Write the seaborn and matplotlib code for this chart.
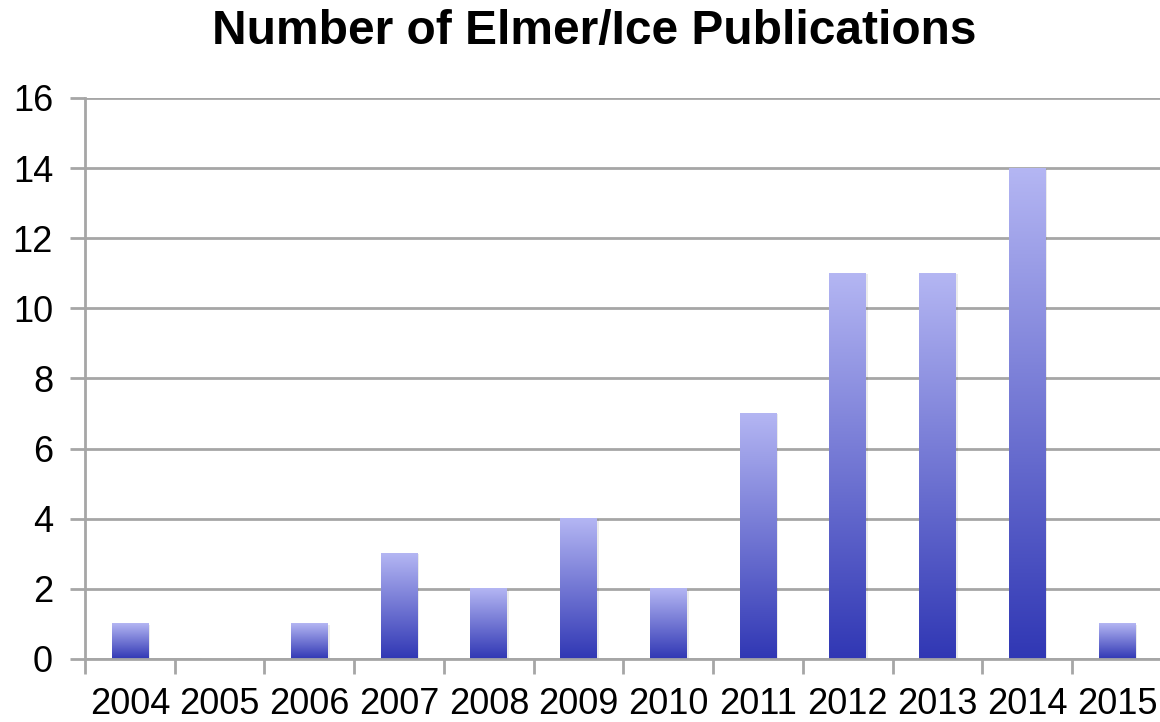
import numpy as np
import matplotlib
matplotlib.use("Agg")
import matplotlib.pyplot as plt
import matplotlib.colors as mcolors
import seaborn as sns
import pandas as pd

years = ["2004", "2005", "2006", "2007", "2008", "2009", "2010", "2011", "2012", "2013", "2014", "2015"]
counts = [1, 0, 1, 3, 2, 4, 2, 7, 11, 11, 14, 1]
yticks = [0, 2, 4, 6, 8, 10, 12, 14, 16]
title = "Number of Elmer/Ice Publications"

sns.set_style("white")
plt.rcParams["font.family"] = ["Liberation Sans", "DejaVu Sans"]
plt.rcParams["text.color"] = "black"
plt.rcParams["xtick.color"] = "black"
plt.rcParams["ytick.color"] = "black"

df = pd.DataFrame({"year": years, "count": counts})

fig = plt.figure(figsize=(11.6, 7.22), dpi=100)
ax = fig.add_axes([0.0733, 0.0873, 0.9283, 0.777])

sns.barplot(data=df, x="year", y="count", ax=ax, width=0.41, color="#7f82dd", saturation=1)

ax.set_ylim(0, 16)
ax.set_xlim(-0.5, len(years) - 0.5)
ax.set_yticks(yticks)
ax.set_yticklabels([str(t) for t in yticks])
ax.set_xlabel("")
ax.set_ylabel("")

grid_c = "#a6a6a6"
for t in yticks:
    ax.axhline(t, color=grid_c, lw=2, zorder=0.5)
ax.set_axisbelow(True)

# gradient fill for bars
cmap = mcolors.LinearSegmentedColormap.from_list("g", ["#3037b4", "#b4b6f3"])
grad = np.linspace(0, 1, 256).reshape(-1, 1)
for p in list(ax.patches):
    x0, y0 = p.get_x(), p.get_y()
    w, h = p.get_width(), p.get_height()
    if h <= 0:
        continue
    p.set_facecolor("none")
    p.set_edgecolor("none")
    ax.add_patch(plt.Rectangle((x0 + 0.02, y0), w, h - 0.02, facecolor="#000000", alpha=0.08,
                               edgecolor="none", zorder=1.5))
    ax.imshow(grad, extent=[x0, x0 + w, y0, y0 + h], origin="lower", cmap=cmap,
              aspect="auto", zorder=2, interpolation="bilinear")

ax.set_xlim(-0.5, len(years) - 0.5)
ax.set_ylim(0, 16)

for s in ["top", "right"]:
    ax.spines[s].set_visible(False)
ax.spines["left"].set_color(grid_c)
ax.spines["left"].set_linewidth(2)
ax.spines["bottom"].set_color(grid_c)
ax.spines["bottom"].set_linewidth(2)

ax.tick_params(axis="y", which="major", length=11, width=2, color=grid_c, direction="out",
               labelsize=26, pad=12, left=True, labelcolor="black")
ax.set_xticks(np.arange(len(years)))
ax.set_xticklabels(years)
ax.tick_params(axis="x", which="major", length=0, labelsize=26, pad=20, labelcolor="black")
ax.set_xticks(np.arange(len(years) + 1) - 0.5, minor=True)
ax.tick_params(axis="x", which="minor", length=11, width=2, color=grid_c, direction="out", bottom=True)

fig.text(0.512, 0.957, title, ha="center", va="center", fontsize=34.5, fontweight="bold", color="black")

fig.savefig("out.png", dpi=100)
